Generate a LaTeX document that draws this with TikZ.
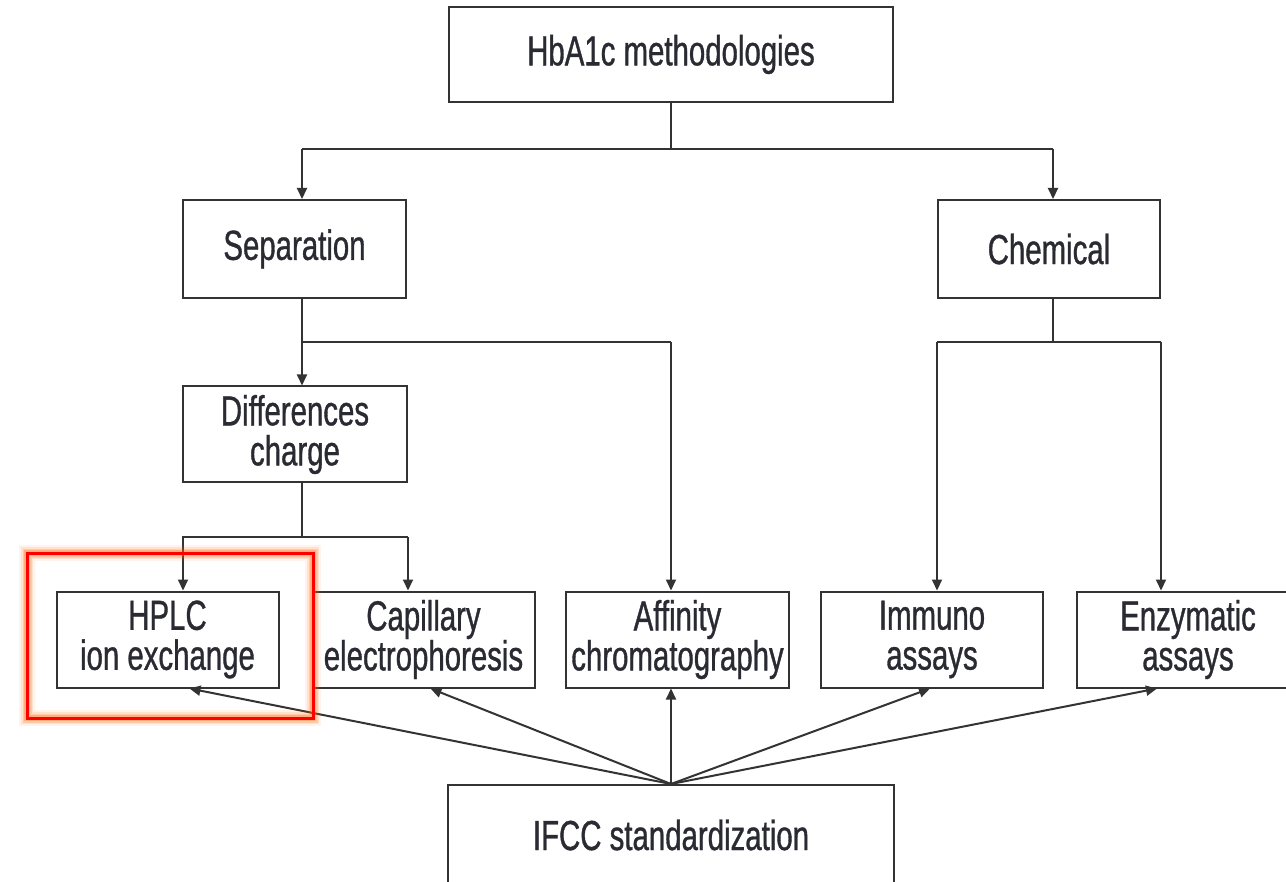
\documentclass[tikz,border=0pt]{standalone}
\usepackage{fontspec}
\setmainfont[FakeStretch=0.7,FakeBold=0.8]{Liberation Sans}
\usetikzlibrary{arrows.meta}
\definecolor{ink}{HTML}{333333}
\definecolor{txt}{HTML}{2A2A33}
\begin{document}
\begin{tikzpicture}[x=1pt,y=-1pt,
  box/.style={draw=ink,line width=2pt,minimum width=222pt,minimum height=96pt,
    inner sep=0pt,align=center,text=txt,font=\fontsize{42}{40}\selectfont},
  wire/.style={draw=ink,line width=2pt},
  arr/.style={wire,-{Triangle[length=11pt,width=10pt]}}]
\useasboundingbox (0,0) rectangle (1286,882);
\clip (0,0) rectangle (1286,882);
\fill[white] (0,0) rectangle (1286,882);

% boxes
\node[box,minimum width=444pt,minimum height=95pt] (top) at (671,54.5) {HbA1c methodologies};
\node[box,minimum width=223pt,minimum height=98pt] (sep) at (294.5,249) {Separation};
\node[box,minimum width=222pt,minimum height=98pt] (chem) at (1049,249) {Chemical};
\node[box,minimum width=224pt] (diff) at (295,434.5) {Differences\\charge};
\node[box] (hplc) at (167.5,639.5) {HPLC\\ion exchange};
\node[box] (cap) at (423.5,639.5) {Capillary\\electrophoresis};
\node[box,minimum width=223pt] (aff) at (677.5,639.5) {Affinity\\chromatography};
\node[box] (imm) at (932,639.5) {Immuno\\assays};
\node[box] (enz) at (1188,639.5) {Enzymatic\\assays};
\node[box,minimum width=446pt,minimum height=100pt] (ifcc) at (671,835) {IFCC standardization};

% branch points
\coordinate (sx) at (302,0);
\coordinate (cx) at (1053,0);

% top level split
\draw[wire] (top.south) -- ++(0,46) coordinate (j0);
\draw[wire] (sx |- j0) -- (cx |- j0);
\draw[arr] (sx |- j0) -- (sx |- sep.north);
\draw[arr] (cx |- j0) -- (cx |- chem.north);

% separation branch
\draw[arr] (sx |- sep.south) -- (sx |- diff.north);
\draw[wire] (sx |- 0,342) coordinate (j1) -- (671,342) coordinate (j2);
\draw[arr] (j2) -- (j2 |- aff.north);

% charge branch
\draw[wire] (sx |- diff.south) -- (sx |- 0,537) coordinate (j3);
\draw[wire] (diff.west |- j3) -- (diff.east |- j3);
\draw[arr] ([xshift=1pt]diff.west |- j3) -- ([xshift=1pt]diff.west |- hplc.north);
\draw[arr] (diff.east |- j3) -- (diff.east |- cap.north);

% chemical branch
\draw[wire] (cx |- chem.south) -- (cx |- 0,342) coordinate (j4);
\draw[wire] (chem.west |- j4) -- (chem.east |- j4);
\draw[arr] (chem.west |- j4) -- (chem.west |- imm.north);
\draw[arr] (chem.east |- j4) -- (chem.east |- enz.north);

% standardization links
\draw[arr] (ifcc.north) -- ([xshift=22pt]hplc.south);
\draw[arr] (ifcc.north) -- ([xshift=7pt]cap.south);
\draw[arr] (ifcc.north) -- (ifcc.north |- aff.south);
\draw[arr] (ifcc.north) -- ([xshift=-2pt]imm.south);
\draw[arr] (ifcc.north) -- ([xshift=-31pt]enz.south);

% highlight frame with soft glow
\coordinate (h1) at (27,553);
\coordinate (h2) at (313,718);
\foreach \w/\o in {16/0.08,12/0.12,9/0.18,6/0.25}
  \draw[orange!80!red,line width=\w pt,opacity=\o] (h1) rectangle (h2);
\draw[red,line width=3pt] (h1) rectangle (h2);
\end{tikzpicture}
\end{document}
